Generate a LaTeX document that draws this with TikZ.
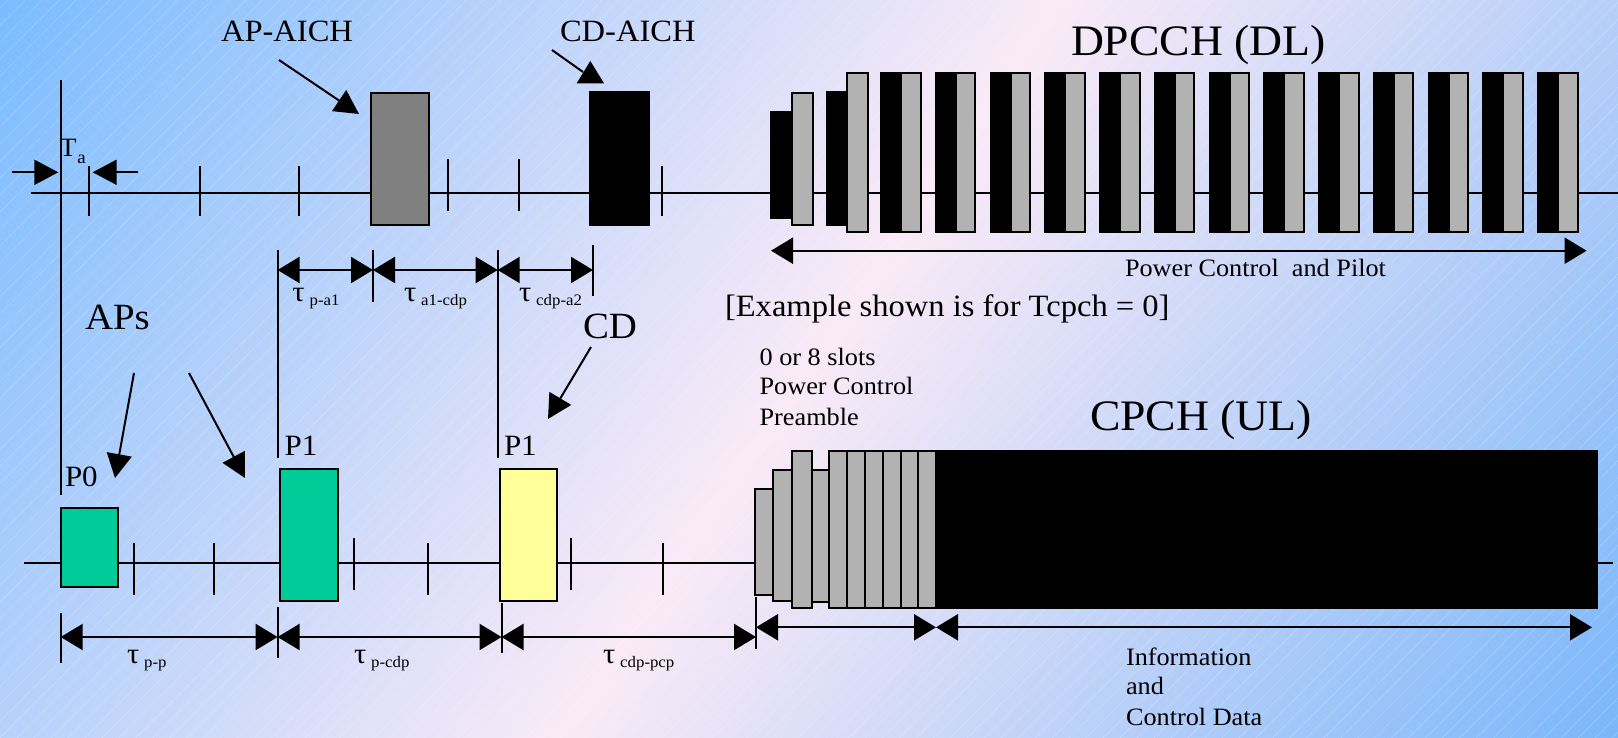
\documentclass[tikz,border=0pt]{standalone}
\usepackage{fontspec}
\setmainfont{Liberation Serif}[FakeStretch=1.05]
\usetikzlibrary{arrows.meta,patterns.meta}
\definecolor{bgA}{RGB}{122,188,255}
\definecolor{bgM}{RGB}{250,234,247}
\definecolor{bgB}{RGB}{122,183,250}
\definecolor{apgreen}{RGB}{0,204,153}
\definecolor{cdyellow}{RGB}{255,255,153}
\definecolor{slotgray}{RGB}{178,178,178}
\definecolor{aichgray}{RGB}{128,128,128}
\newcommand{\myfs}[1]{\fontsize{#1}{#1}\selectfont}
\newcommand{\taulab}[1]{\myfs{29}τ\hspace{5pt}\raisebox{-4.5pt}{\myfs{16}#1}}
\begin{document}
\begin{tikzpicture}[x=1pt,y=-1pt,
  axisline/.style={line width=2.2pt},
  tk/.style={line width=2pt},
  dim/.style={line width=2.2pt,{Triangle[length=22pt,width=26pt]}-{Triangle[length=22pt,width=26pt]}},
  ptr/.style={line width=2pt,-{Triangle[length=24pt,width=25pt]}},
  box/.style 2 args={draw=black,line width=2pt,inner sep=0pt,outer sep=0pt,anchor=north west,minimum width=#1,minimum height=#2},
  sbox/.style 2 args={draw=black,line width=1.6pt,inner sep=0pt,outer sep=0pt,anchor=north west,minimum width=#1,minimum height=#2,fill=slotgray},
  lbl/.style={inner sep=0pt,outer sep=0pt,anchor=base west},
]
\useasboundingbox (0,0) rectangle (1618,738);
% background
\begin{scope}
  \clip (0,0) rectangle (1618,738);
  \begin{scope}[transform canvas={rotate around={-34:(809,369)}}]
    \shade[left color=bgA,right color=bgB,middle color=bgM] (-68,-631) rectangle (1686,1369);
  \end{scope}
  \fill[pattern={Lines[angle=45,distance=12pt,line width=0.5pt]},pattern color=white,opacity=0.25] (0,0) rectangle (1618,738);
\end{scope}

% ---------- coordinates ----------
\coordinate (dlL) at (31,192.7);   \coordinate (dlR) at (1618,192.7);
\coordinate (ulL) at (24,562.7);   \coordinate (ulR) at (1613,562.7);
\coordinate (vA1) at (60.5,80);    \coordinate (vA2) at (60.5,495);
\coordinate (vB1) at (277.6,250);  \coordinate (vB2) at (277.6,458);
\coordinate (vC1) at (497.7,250);  \coordinate (vC2) at (497.7,458);
\coordinate (vD1) at (373,250);    \coordinate (vD2) at (373,302);
\coordinate (vE1) at (593,245);    \coordinate (vE2) at (593,296);
\coordinate (wA1) at (60.7,613);   \coordinate (wA2) at (60.7,663);
\coordinate (wB1) at (277.6,607);  \coordinate (wB2) at (277.6,658);
\coordinate (wC1) at (501.5,603);  \coordinate (wC2) at (501.5,653);
\coordinate (wD1) at (756,597);    \coordinate (wD2) at (756,649);

% axes
\draw[axisline] (dlL) -- (dlR);
\draw[axisline] (ulL) -- (ulR);
% ticks
\foreach \x/\a/\b in {89.3/166/216,199.5/166/216,299/166/216,448/159/211,519/159/211,662/166/216}
  \draw[tk] (\x,\a) -- (\x,\b);
\foreach \x/\a/\b in {134/543/595,214/543/595,354/538/590,428/543/595,571/538/590,663/543/595}
  \draw[tk] (\x,\a) -- (\x,\b);
% vertical reference lines
\draw[tk] (vA1) -- (vA2);
\draw[tk] (vB1) -- (vB2);
\draw[tk] (vC1) -- (vC2);
\draw[tk] (vD1) -- (vD2);
\draw[tk] (vE1) -- (vE2);
\draw[tk] (wA1) -- (wA2);
\draw[tk] (wB1) -- (wB2);
\draw[tk] (wC1) -- (wC2);
\draw[tk] (wD1) -- (wD2);

% ---------- DL boxes ----------
\node[box={58pt}{132pt},fill=aichgray] (apaich) at (370.5,93.3) {};
\node[box={59pt}{133pt},fill=black] (cdaich) at (589.5,92) {};
\node[box={20.5pt}{106.6pt},fill=black] (dlb1) at (771,111.7) {};
\node[box={21.3pt}{131.7pt},fill=slotgray] (dlg1) at (791.5,93.3) {};
\node[box={19.5pt}{133.3pt},fill=black] (dlb2) at (827,91.7) {};
\node[box={21pt}{158.4pt},fill=slotgray] (dlg2) at (846.5,73.3) {};
\foreach \k in {0,...,12}{
  \pgfmathsetmacro{\xb}{881+54.75*\k}
  \pgfmathsetmacro{\xg}{\xb+20}
  \node[box={20pt}{158.4pt},fill=black] (dpb\k) at (\xb,73.3) {};
  \node[box={19.5pt}{158.4pt},fill=slotgray] (dpg\k) at (\xg,73.3) {};
}

% ---------- UL boxes ----------
\node[box={57pt}{79pt},fill=apgreen] (p0) at (61,508) {};
\node[box={58pt}{132pt},fill=apgreen] (p1) at (280,469) {};
\node[box={57pt}{132pt},fill=cdyellow] (cdp) at (500,469) {};
\node[sbox={18pt}{106pt}] (u1) at (755,489) {};
\node[sbox={19pt}{131pt}] (u2) at (773,470) {};
\node[sbox={20pt}{157pt}] (u3) at (792,451) {};
\node[sbox={17pt}{132pt}] (u4) at (812,470) {};
\foreach \x/\w [count=\i from 5] in {829/18,847/18,865/18,883/18,901/17,918/18}
  \node[sbox={\w pt}{157pt}] (u\i) at (\x,451) {};
\node[box={660.7pt}{157pt},fill=black] (ulblack) at (936,451) {};

% ---------- dimension arrows ----------
\draw[dim] (277.6,270) coordinate (ta0) -- (373,270) coordinate (ta1);
\draw[dim] (ta1) -- (497.7,270) coordinate (ta2);
\draw[dim] (ta2) -- (593,270) coordinate (ta3);
\draw[dim] (60.7,637) coordinate (tb0) -- (277.6,637) coordinate (tb1);
\draw[dim] (tb1) -- (501.5,637) coordinate (tb2);
\draw[dim] (tb2) -- (756,637) coordinate (tb3);
\draw[dim] (756,627.3) coordinate (tc0) -- (936,627.3) coordinate (tc1);
\draw[dim] (tc1) -- (1592,627.3) coordinate (tc2);
\draw[dim] (771,250.7) coordinate (td0) -- (1586.6,250.7) coordinate (td1);

% ---------- pointer arrows ----------
\coordinate (pa0) at (279,60);   \coordinate (pa1) at (359,114);
\draw[ptr] (pa0) -- (pa1);
\coordinate (pb0) at (552,50);   \coordinate (pb1) at (583,72);
\draw[line width=2pt] (pb0) -- (pb1);
\fill (576.7,83.3) -- (604,83.3) -- (590.3,61) -- cycle;
\coordinate (pc0) at (134,373);  \coordinate (pc1) at (115,478);
\draw[ptr] (pc0) -- (pc1);
\coordinate (pd0) at (189,373);  \coordinate (pd1) at (245,478);
\draw[ptr] (pd0) -- (pd1);
\coordinate (pe0) at (591,347);  \coordinate (pe1) at (548,419);
\draw[ptr] (pe0) -- (pe1);
\coordinate (ta_l0) at (12.3,172.3); \coordinate (ta_l1) at (58.3,172.3);
\draw[ptr] (ta_l0) -- (ta_l1);
\coordinate (ta_r0) at (138.3,172.3); \coordinate (ta_r1) at (92.7,172.3);
\draw[ptr] (ta_r0) -- (ta_r1);

% ---------- labels ----------
\node[lbl] (lapaich) at (221,41.7) {\myfs{31}AP-AICH};
\node[lbl] (lcdaich) at (560,41.7) {\myfs{31}CD-AICH};
\node[lbl] (ldpcch) at (1071,55.5) {\myfs{43.5}DPCCH (DL)};
\node[lbl] (lT) at (59.5,156.7) {\myfs{26.5}T};
\node[lbl] (la) at (77.3,163.3) {\myfs{18}a};
\node[lbl] (laps) at (85,329) {\myfs{37}APs};
\node[lbl] (lcd) at (583,338.5) {\myfs{37}CD};
\node[lbl] (lp0) at (65,486.7) {\myfs{29.5}P0};
\node[lbl] (lp1a) at (284.6,455) {\myfs{29.5}P1};
\node[lbl] (lp1b) at (504,455) {\myfs{29.5}P1};
\node[lbl] (lex) at (725,316.7) {\myfs{31}[Example shown is for Tcpch = 0]};
\node[lbl] (lpcp) at (1125,276.7) {\myfs{25}Power Control~ and Pilot};
\node[lbl] (lcpch) at (1090,430) {\myfs{43.5}CPCH (UL)};
\node[lbl] (ls1) at (759.6,365) {\myfs{25}0 or 8 slots};
\node[lbl] (ls2) at (759.6,394.5) {\myfs{25}Power Control};
\node[lbl] (ls3) at (759.6,425) {\myfs{25}Preamble};
\node[lbl] (li1) at (1126,665) {\myfs{25}Information};
\node[lbl] (li2) at (1126,694.5) {\myfs{25}and};
\node[lbl] (li3) at (1126,725) {\myfs{25}Control Data};
\node[lbl] (lt1) at (292.4,301.5) {\taulab{p-a1}};
\node[lbl] (lt2) at (404,301.5) {\taulab{a1-cdp}};
\node[lbl] (lt3) at (519,301.5) {\taulab{cdp-a2}};
\node[lbl] (lt4) at (127,663) {\taulab{p-p}};
\node[lbl] (lt5) at (354,663) {\taulab{p-cdp}};
\node[lbl] (lt6) at (603,663) {\taulab{cdp-pcp}};
\end{tikzpicture}
\end{document}
